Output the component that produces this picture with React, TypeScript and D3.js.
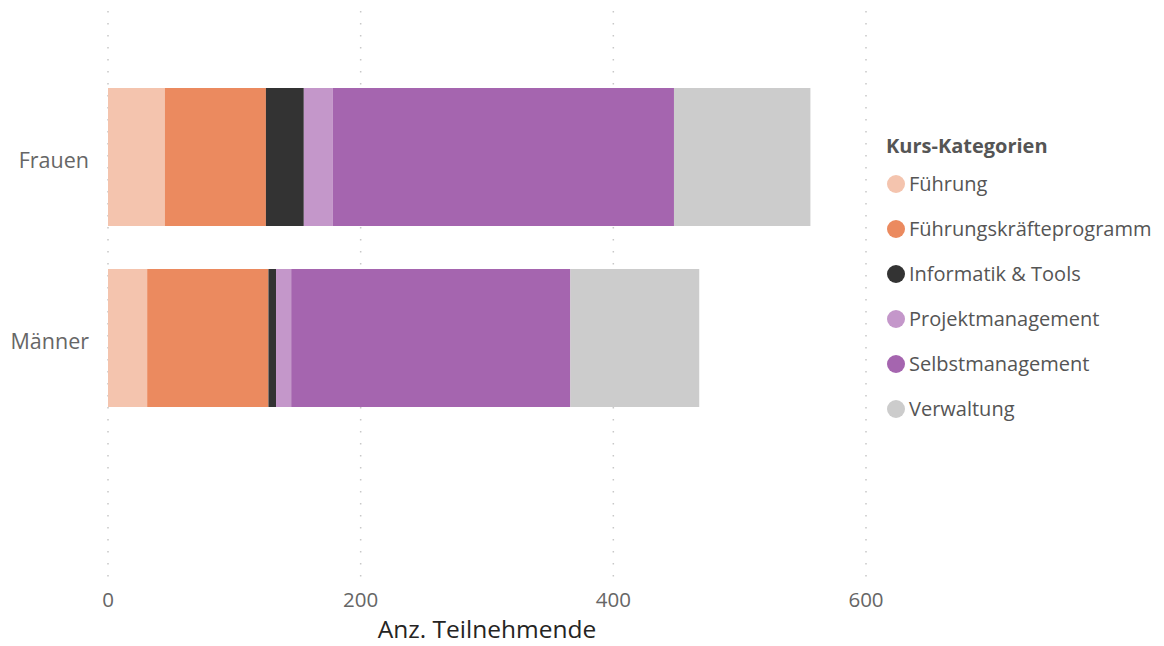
import React from "react";
import * as d3 from "d3";

const categories = ["Frauen", "Männer"];
const seriesNames = [
  "Führung",
  "Führungskräfteprogramm",
  "Informatik & Tools",
  "Projektmanagement",
  "Selbstmanagement",
  "Verwaltung",
];
const seriesColors = ["#F4C4AE", "#EB8A5F", "#333333", "#C497CA", "#A565AF", "#CCCCCC"];
const frauenValues = [45, 80, 30, 23, 270, 108];
const maennerValues = [31, 96, 6, 12, 221, 102];
const xTicks = [0, 200, 400, 600];
const xTitle = "Anz. Teilnehmende";
const legendTitle = "Kurs-Kategorien";

const W = 1164;
const H = 646;
const FONT = "'Open Sans', 'Noto Sans', sans-serif";

export default function App() {
  const x = d3.scaleLinear().domain([0, 600]).range([108, 866]);
  const y = d3
    .scaleBand<string>()
    .domain(categories)
    .range([45, 450])
    .paddingInner(0.2376)
    .paddingOuter(0.2376);

  const rows = categories.map((c, i) => {
    const vals = i === 0 ? frauenValues : maennerValues;
    let acc = 0;
    return vals.map((v, j) => {
      const start = acc;
      acc += v;
      return { cat: c, series: j, x0: start, x1: acc };
    });
  });

  return (
    <svg
      width={W}
      height={H}
      style={{ position: "absolute", left: 0, top: 0, fontFamily: FONT }}
    >
      <rect width={W} height={H} fill="#ffffff" />
      {xTicks.map((t) => (
        <line
          key={t}
          x1={x(t)}
          x2={x(t)}
          y1={11}
          y2={577}
          stroke="#c8c8c8"
          strokeWidth={1.5}
          strokeDasharray="1.5,10.5"
        />
      ))}
      {rows.map((segs, i) =>
        segs.map((s) => (
          <rect
            key={`${i}-${s.series}`}
            x={x(s.x0)}
            y={y(s.cat)}
            width={x(s.x1) - x(s.x0)}
            height={y.bandwidth()}
            fill={seriesColors[s.series]}
          />
        ))
      )}
      {categories.map((c) => (
        <text
          key={c}
          x={89}
          y={(y(c) as number) + y.bandwidth() / 2 + 3}
          dy="0.35em"
          textAnchor="end"
          fontSize={21.5}
          fill="#666666"
        >
          {c}
        </text>
      ))}
      {xTicks.map((t) => (
        <text
          key={t}
          x={x(t)}
          y={607}
          textAnchor="middle"
          fontSize={20.5}
          fill="#666666"
        >
          {t}
        </text>
      ))}
      <text
        x={(x(0) + x(600)) / 2}
        y={638}
        textAnchor="middle"
        fontSize={24.5}
        fill="#252423"
      >
        {xTitle}
      </text>
      <text x={886} y={153} fontSize={20} fontWeight="bold" fill="#555555">
        {legendTitle}
      </text>
      {seriesNames.map((n, i) => {
        const cy = 184 + i * 45;
        return (
          <g key={n}>
            <circle cx={896} cy={cy} r={9} fill={seriesColors[i]} />
            <text x={909} y={cy} dy="0.35em" fontSize={20} fill="#555555">
              {n}
            </text>
          </g>
        );
      })}
    </svg>
  );
}
